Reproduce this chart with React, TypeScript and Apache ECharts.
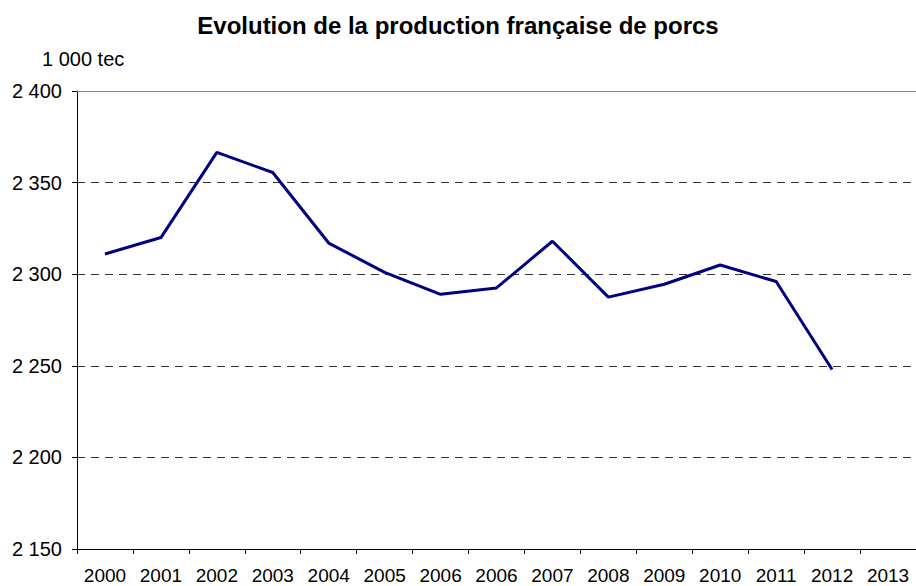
import React, { useEffect, useRef } from "react";
import * as echarts from "echarts";

const TITLE = "Evolution de la production française de porcs";
const UNIT = "1 000 tec";
const categories = ["2000", "2001", "2002", "2003", "2004", "2005", "2006", "2006", "2007", "2008", "2009", "2010", "2011", "2012", "2013"];
const production = [2311, 2320, 2366.5, 2355.5, 2317, 2301, 2289, 2292.5, 2318, 2287.5, 2294.5, 2305, 2296, 2248, null];
const yMin = 2150;
const yMax = 2400;
const yStep = 50;

const fmt = (v: number) => {
  const s = String(Math.round(v));
  return s.replace(/\B(?=(\d{3})+(?!\d))/g, " ");
};

export default function App() {
  const ref = useRef<HTMLDivElement>(null);
  useEffect(() => {
    if (!ref.current) return;
    const chart = echarts.init(ref.current, null, { renderer: "svg" });
    const font = "Arial, 'Liberation Sans', sans-serif";
    chart.setOption({
      animation: false,
      backgroundColor: "#ffffff",
      textStyle: { fontFamily: font },
      title: {
        text: TITLE,
        left: "center",
        top: 8,
        textStyle: { fontFamily: font, fontSize: 24, fontWeight: "bold", color: "#000" },
      },
      graphic: [
        {
          type: "text",
          x: 42,
          y: 59,
          style: { text: UNIT, font: `20px ${font}`, fill: "#000", textVerticalAlign: "middle" },
        },
      ],
      grid: { left: 77, right: 0, top: 91, bottom: 37, containLabel: false },
      xAxis: [
        {
          type: "category",
          data: categories,
          boundaryGap: true,
          axisLine: { show: true, lineStyle: { color: "#000", width: 1 } },
          axisTick: { show: true, length: 5, lineStyle: { color: "#000" } },
          axisLabel: { color: "#000", fontSize: 19, fontFamily: font, margin: 17, interval: 0 },
          splitLine: { show: false },
        },
        {
          type: "category",
          position: "top",
          data: categories,
          axisLine: { show: true, lineStyle: { color: "#888", width: 1 } },
          axisTick: { show: false },
          axisLabel: { show: false },
          splitLine: { show: false },
        },
      ],
      yAxis: {
        type: "value",
        min: yMin,
        max: yMax,
        interval: yStep,
        axisLine: { show: true, lineStyle: { color: "#000", width: 1 } },
        axisTick: { show: true, length: 5, lineStyle: { color: "#000" } },
        axisLabel: { color: "#000", fontSize: 20, fontFamily: font, margin: 15, formatter: fmt },
        splitLine: {
          show: true,
          lineStyle: { color: "#333", type: [8, 6], width: 1 },
        },
      },
      series: [
        {
          type: "line",
          data: production,
          xAxisIndex: 0,
          symbol: "none",
          lineStyle: { color: "#000080", width: 3 },
          itemStyle: { color: "#000080" },
          connectNulls: false,
        },
      ],
    });
    return () => chart.dispose();
  }, []);
  return (
    <div
      ref={ref}
      style={{ position: "fixed", left: 0, top: 0, width: 916, height: 586 }}
    />
  );
}
